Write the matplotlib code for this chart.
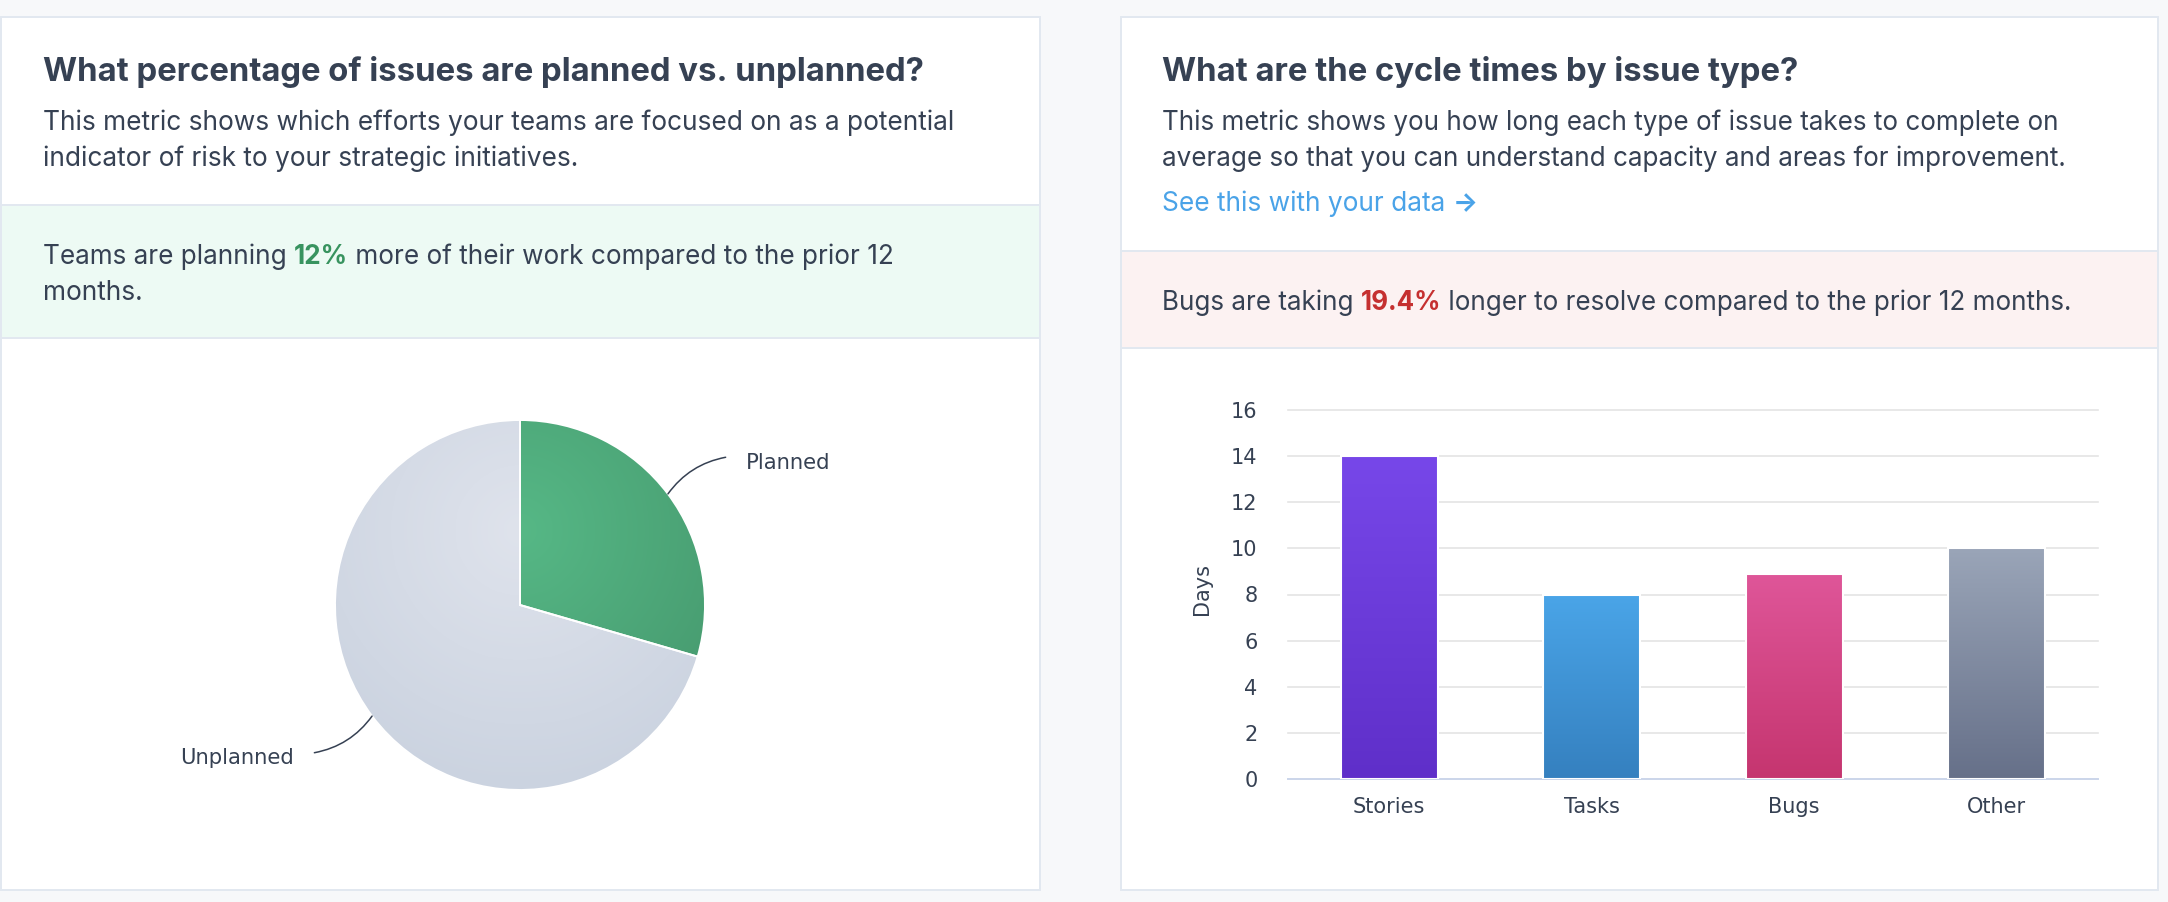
import numpy as np
import matplotlib
matplotlib.use('Agg')
import matplotlib.pyplot as plt
from matplotlib.colors import LinearSegmentedColormap
from matplotlib.patches import Rectangle

# Data
pie_labels = ['Planned', 'Unplanned']
pie_values = [29.5, 70.5]
bar_labels = ['Stories', 'Tasks', 'Bugs', 'Other']
bar_values = [14, 8, 8.9, 10]
y_ticks = [0, 2, 4, 6, 8, 10, 12, 14, 16]

# Colours
TEXT = '#364153'
BORDER = '#E2E8F0'
bar_colors = [('#7747E9', '#5F2FC9'), ('#4AA5E8', '#3580BF'),
              ('#DF5699', '#C5356F'), ('#9AA5B8', '#667089')]
pie_colors = [('#56B886', '#46996E'), ('#DFE3EC', '#CBD3E0')]

BODY = 18.95
BODY_R = 18.74
TITLE = 23.7
SMALL = 15.0

W, H = 2168, 902
plt.rcParams['font.family'] = ['Inter', 'DejaVu Sans']
fig = plt.figure(figsize=(W / 100, H / 100), dpi=100, facecolor='#F7F8FA')

# Page layer in pixel coordinates
bg = fig.add_axes([0, 0, 1, 1])
bg.set_xlim(0, W)
bg.set_ylim(H, 0)
bg.axis('off')


def px_axes(x0, y0, x1, y1):
    return fig.add_axes([x0 / W, 1 - y1 / H, (x1 - x0) / W, (y1 - y0) / H])


def card(x0, y0, x1, y1):
    bg.add_patch(Rectangle((x0, y0), x1 - x0, y1 - y0, fc='white', ec=BORDER, lw=1.4))


def band(x0, y0, x1, y1, color):
    bg.add_patch(Rectangle((x0, y0), x1 - x0, y1 - y0, fc=color, ec=BORDER, lw=1.4))


def runs(x, y, parts, size=BODY):
    # draw coloured pieces of text one after the other on one baseline
    r = fig.canvas.get_renderer()
    for s, c, w in parts:
        t = bg.text(x, y, s, color=c, fontsize=size, fontweight=w, va='baseline', ha='left')
        x = x + t.get_window_extent(r).width


card(1, 17, 1040, 890)
card(1121, 17, 2158, 890)
band(1, 205, 1040, 338, '#EDFAF4')
band(1121, 251, 2158, 348, '#FCF2F2')

# Left card text
bg.text(43, 81, 'What percentage of issues are planned vs. unplanned?', color=TEXT,
        fontsize=TITLE, fontweight='bold')
bg.text(43, 130, 'This metric shows which efforts your teams are focused on as a potential',
        color=TEXT, fontsize=BODY)
bg.text(43, 166, 'indicator of risk to your strategic initiatives.', color=TEXT, fontsize=BODY)
runs(43, 264, [('Teams are planning ', TEXT, 'normal'), ('12%', '#38935F', 'bold'),
               (' more of their work compared to the prior 12', TEXT, 'normal')], size=18.82)
bg.text(43, 300, 'months.', color=TEXT, fontsize=BODY)

# Right card text
bg.text(1162, 81, 'What are the cycle times by issue type?', color=TEXT,
        fontsize=TITLE, fontweight='bold')
bg.text(1162, 130, 'This metric shows you how long each type of issue takes to complete on',
        color=TEXT, fontsize=BODY_R)
bg.text(1162, 166, 'average so that you can understand capacity and areas for improvement.',
        color=TEXT, fontsize=BODY_R)
runs(1162, 211, [('See this with your data ', '#4AA3E8', 'normal'), ('\u2192', '#4AA3E8', 'bold')])
runs(1162, 310, [('Bugs are taking ', TEXT, 'normal'), ('19.4%', '#C53030', 'bold'),
                 (' longer to resolve compared to the prior 12 months.', TEXT, 'normal')], size=BODY_R)

# Pie
pie_ax = px_axes(335, 420, 705, 790)
wedges, _ = pie_ax.pie(pie_values, startangle=90, counterclock=False, radius=1,
                       wedgeprops=dict(edgecolor='white', linewidth=1.4, facecolor='none'))
yy, xx = np.mgrid[1.02:-1.02:400j, -1.02:1.02:400j]
dist = np.hypot(xx, yy - 0.4) / 1.4
for w, (c0, c1) in zip(wedges, pie_colors):
    cmap = LinearSegmentedColormap.from_list('g', [c0, c1])
    im = pie_ax.imshow(dist, cmap=cmap, vmin=0, vmax=1, extent=(-1.02, 1.02, -1.02, 1.02),
                       zorder=w.get_zorder() - 0.5, interpolation='bilinear')
    im.set_clip_path(w)
pie_ax.set_xlim(-1, 1)
pie_ax.set_ylim(-1, 1)
pie_ax.axis('off')

# Leader lines start at the middle of each slice
start = 0
for name, val in zip(pie_labels, pie_values):
    mid = np.deg2rad((start + val / 2) * 3.6)
    start += val
    sx, cy = np.sin(mid), np.cos(mid)
    side = np.sign(sx)
    end = (1.39 * sx, 1.33 * cy)
    pie_ax.annotate('', xy=(sx, cy), xytext=end, annotation_clip=False,
                    arrowprops=dict(arrowstyle='-', color=TEXT, lw=1.1, shrinkA=0, shrinkB=0,
                                    connectionstyle='arc3,rad=%.2f' % 0.2))
    pie_ax.text(end[0] + side * 0.11, end[1] - 0.03, name, color=TEXT, fontsize=15.2,
                family=['DejaVu Sans'], ha='left' if side > 0 else 'right', va='center', clip_on=False)

# Bars
ax = px_axes(1288, 410, 2098, 779)
ax.set_facecolor('none')
x = np.arange(len(bar_values))
bars = ax.bar(x, bar_values, width=0.48, facecolor='none', edgecolor='white', linewidth=1.5, zorder=3)
for b, (top, bottom) in zip(bars, bar_colors):
    cmap = LinearSegmentedColormap.from_list('g', [bottom, top])
    im = ax.imshow(np.linspace(0, 1, 256).reshape(-1, 1), cmap=cmap, origin='lower', aspect='auto',
                   extent=(b.get_x(), b.get_x() + b.get_width(), 0, b.get_height()), zorder=2.5)
ax.set_xlim(-0.5, 3.5)
ax.set_ylim(0, 16)
ax.set_xticks(x)
ax.set_xticklabels(bar_labels, family=['DejaVu Sans'], fontsize=SMALL, color=TEXT)
ax.set_yticks(y_ticks)
ax.set_yticklabels(y_ticks, family=['DejaVu Sans'], fontsize=SMALL, color=TEXT)
ax.tick_params(axis='x', length=0, pad=13)
ax.tick_params(axis='y', length=0, pad=22)
ax.grid(axis='y', color='#E4E4E4', linewidth=1.2, clip_on=False)
ax.set_axisbelow(True)
for s in ['top', 'left', 'right']:
    ax.spines[s].set_visible(False)
ax.spines['bottom'].set_color('#CCD6EB')
ax.spines['bottom'].set_linewidth(1.4)
ax.set_ylabel('Days', family=['DejaVu Sans'], fontsize=SMALL, color=TEXT)
ax.yaxis.set_label_coords((1212 - 1288) / 810, (779 - 589) / 369)

fig.savefig('out.png', dpi=100, facecolor=fig.get_facecolor())
